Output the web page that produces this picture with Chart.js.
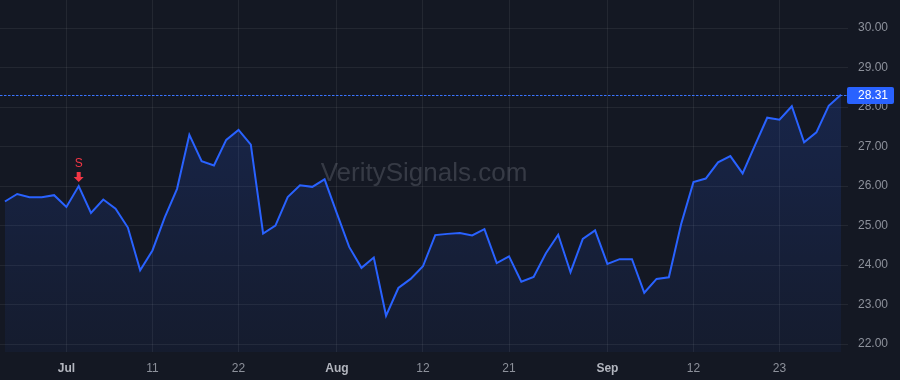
<!DOCTYPE html>
<html>
<head>
<meta charset="utf-8">
<script src="https://cdn.jsdelivr.net/npm/chart.js@4/dist/chart.umd.min.js"></script>
<style>
  html, body { margin: 0; padding: 0; background: #141823; }
  #wrap { width: 900px; height: 380px; }
</style>
</head>
<body>
<div id="wrap"><canvas id="price-chart"></canvas></div>
<script>
// trading days, Jun 24 - Sep 30 2024
const dates = [
  "2024-06-24", "2024-06-25", "2024-06-26", "2024-06-27", "2024-06-28",
  "2024-07-01", "2024-07-02", "2024-07-03", "2024-07-05", "2024-07-08",
  "2024-07-09", "2024-07-10", "2024-07-11", "2024-07-12", "2024-07-15",
  "2024-07-16", "2024-07-17", "2024-07-18", "2024-07-19", "2024-07-22",
  "2024-07-23", "2024-07-24", "2024-07-25", "2024-07-26", "2024-07-29",
  "2024-07-30", "2024-07-31", "2024-08-01", "2024-08-02", "2024-08-05",
  "2024-08-06", "2024-08-07", "2024-08-08", "2024-08-09", "2024-08-12",
  "2024-08-13", "2024-08-14", "2024-08-15", "2024-08-16", "2024-08-19",
  "2024-08-20", "2024-08-21", "2024-08-22", "2024-08-23", "2024-08-26",
  "2024-08-27", "2024-08-28", "2024-08-29", "2024-08-30", "2024-09-03",
  "2024-09-04", "2024-09-05", "2024-09-06", "2024-09-09", "2024-09-10",
  "2024-09-11", "2024-09-12", "2024-09-13", "2024-09-16", "2024-09-17",
  "2024-09-18", "2024-09-19", "2024-09-20", "2024-09-23", "2024-09-24",
  "2024-09-25", "2024-09-26", "2024-09-27", "2024-09-30"
];

const closes = [
  25.61, 25.80, 25.72, 25.72, 25.77, 25.47, 26.00, 25.32, 25.66, 25.43,
  24.95, 23.87, 24.37, 25.21, 25.93, 27.30, 26.63, 26.52, 27.17, 27.42,
  27.05, 24.80, 25.00, 25.72, 26.02, 25.98, 26.17, 25.31, 24.46, 23.93,
  24.19, 22.72, 23.42, 23.65, 23.97, 24.76, 24.79, 24.81, 24.75, 24.91,
  24.05, 24.22, 23.58, 23.70, 24.30, 24.77, 23.82, 24.66, 24.88, 24.03,
  24.15, 24.15, 23.30, 23.65, 23.69, 25.04, 26.10, 26.19, 26.60, 26.76,
  26.32, 27.03, 27.73, 27.68, 28.02, 27.11, 27.36, 28.03, 28.31
];

const tickDates = ["2024-07-01", "2024-07-11", "2024-07-22", "2024-08-01", "2024-08-12",
                   "2024-08-21", "2024-09-03", "2024-09-12", "2024-09-23"];
const tickLabels = ["Jul", "11", "22", "Aug", "12", "21", "Sep", "12", "23"];
const monthLabels = ["Jul", "Aug", "Sep"];

const priceTicks = [22, 23, 24, 25, 26, 27, 28, 29, 30];

const signalDates = ["2024-07-02"];
const signalTypes = ["S"];

const watermark = "VeritySignals.com";

const BG = "#141823";
const BLUE = "#2962ff";
const FONT = "'Liberation Sans', Arial, sans-serif";

const tickIdx = tickDates.map(d => dates.indexOf(d));
const points = closes.map((v, i) => ({ x: i, y: v }));

const chartDeco = {
  id: "chartDeco",
  beforeDraw(chart) {
    const c = chart.ctx;
    c.save();
    c.fillStyle = BG;
    c.fillRect(0, 0, chart.width, chart.height);
    c.restore();
  },
  beforeDatasetsDraw(chart) {
    const c = chart.ctx, a = chart.chartArea;
    c.save();
    c.font = "26px " + FONT;
    c.fillStyle = "rgba(178,181,190,0.22)";
    c.textAlign = "center";
    c.textBaseline = "middle";
    c.fillText(watermark, (a.left + a.right) / 2, 174);
    c.restore();
  },
  afterDatasetsDraw(chart) {
    const c = chart.ctx, a = chart.chartArea;
    const xs = chart.scales.x, ys = chart.scales.y;

    // last price line + tag
    const last = closes[closes.length - 1];
    const py = Math.round(ys.getPixelForValue(last));
    c.save();
    c.fillStyle = "#3a74ff";
    for (let x = 0; x < a.right; x += 4) c.fillRect(x, py, 2.5, 1);
    c.fillStyle = BLUE;
    c.beginPath();
    c.roundRect(a.right - 1, py - 8, 47, 17, 2);
    c.fill();
    c.fillStyle = "#ffffff";
    c.font = "12px " + FONT;
    c.textBaseline = "middle";
    c.fillText(last.toFixed(2), a.right + 10, py + 1);
    c.restore();

    // signal markers
    signalDates.forEach((d, k) => {
      const i = dates.indexOf(d);
      const x = xs.getPixelForValue(i);
      const y = ys.getPixelForValue(closes[i]);
      c.save();
      c.fillStyle = "#f23645";
      c.font = "12px " + FONT;
      c.textAlign = "center";
      c.textBaseline = "middle";
      c.fillText(signalTypes[k], x, y - 22);
      c.beginPath();
      c.rect(x - 2, y - 14, 4, 5);
      c.moveTo(x - 5, y - 9);
      c.lineTo(x + 5, y - 9);
      c.lineTo(x, y - 4);
      c.closePath();
      c.fill();
      c.restore();
    });
  }
};

new Chart(document.getElementById("price-chart"), {
  type: "line",
  data: {
    datasets: [{
      data: points,
      borderColor: BLUE,
      borderWidth: 2,
      tension: 0,
      pointRadius: 0,
      fill: "start",
      backgroundColor: (ctx) => {
        const a = ctx.chart.chartArea;
        if (!a) return "rgba(41,98,255,0.1)";
        const g = ctx.chart.ctx.createLinearGradient(0, a.top, 0, a.bottom);
        g.addColorStop(0, "rgba(41,98,255,0.22)");
        g.addColorStop(1, "rgba(41,98,255,0.05)");
        return g;
      }
    }]
  },
  options: {
    responsive: true,
    maintainAspectRatio: false,
    animation: false,
    layout: { padding: 0 },
    plugins: {
      legend: { display: false },
      tooltip: { enabled: false }
    },
    scales: {
      x: {
        type: "linear",
        min: -0.4,
        max: 68.57,
        afterBuildTicks: (axis) => { axis.ticks = tickIdx.map(v => ({ value: v })); },
        afterFit: (axis) => {
          axis.height = 28;
          axis.paddingLeft = 0;
          axis.paddingRight = 0;
        },
        grid: { color: "rgba(255,255,255,0.065)", drawTicks: false },
        border: { display: false },
        ticks: {
          padding: 9,
          maxRotation: 0,
          autoSkip: false,
          callback: (v) => tickLabels[tickIdx.indexOf(v)],
          color: (ctx) => monthLabels.includes(tickLabels[ctx.index]) ? "#b2b5be" : "#8d919b",
          font: (ctx) => ({
            family: FONT,
            size: 12,
            weight: monthLabels.includes(tickLabels[ctx.index]) ? "bold" : "normal"
          })
        }
      },
      y: {
        position: "right",
        min: 21.8,
        max: 30.71,
        afterBuildTicks: (axis) => { axis.ticks = priceTicks.map(v => ({ value: v })); },
        afterFit: (axis) => {
          axis.width = 52;
          axis.paddingTop = 0;
          axis.paddingBottom = 0;
        },
        grid: { color: "rgba(255,255,255,0.065)", drawTicks: false },
        border: { display: false },
        ticks: {
          padding: 10,
          color: "#8d919b",
          font: { family: FONT, size: 12 },
          callback: (v) => v.toFixed(2)
        }
      }
    }
  },
  plugins: [chartDeco]
});
</script>
</body>
</html>
